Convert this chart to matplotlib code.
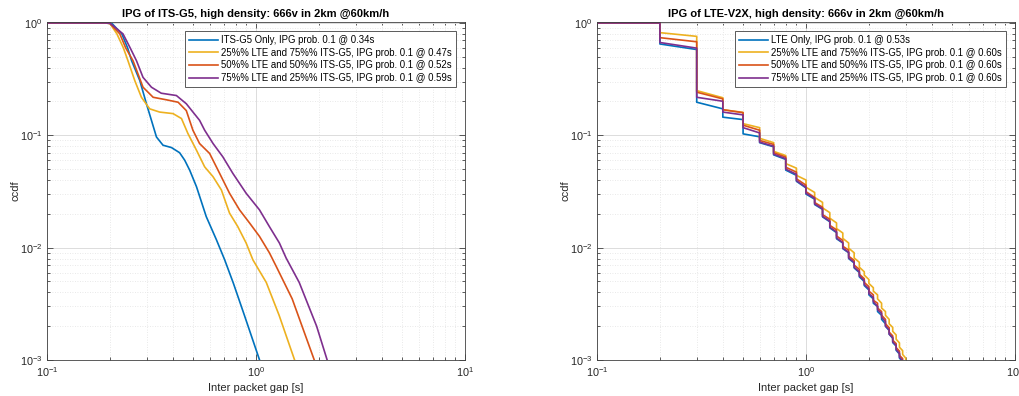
import numpy as np
import matplotlib.pyplot as plt
from matplotlib.ticker import LogLocator, NullFormatter

plt.rcParams['font.family'] = ['Liberation Sans', 'DejaVu Sans']
plt.rcParams['mathtext.default'] = 'regular'

colors = ['#0072BD', '#EDB120', '#D95319', '#7E2F8E']

# ---- left panel: ITS-G5 (smooth ccdf curves) ----
its_title = 'IPG of ITS-G5, high density: 666v in 2km @60km/h'
its_labels = ['ITS-G5 Only, IPG prob. 0.1 @ 0.34s',
              '25%% LTE and 75%% ITS-G5, IPG prob. 0.1 @ 0.47s',
              '50%% LTE and 50%% ITS-G5, IPG prob. 0.1 @ 0.52s',
              '75%% LTE and 25%% ITS-G5, IPG prob. 0.1 @ 0.59s']

its_blue_x = [0.1, 0.19, 0.205, 0.228, 0.243, 0.254, 0.278, 0.299, 0.316, 0.334, 0.359, 0.394,
              0.431, 0.456, 0.482, 0.519, 0.578, 0.646, 0.708, 0.78, 0.88, 1.04, 1.09]
its_blue_y = [1.0, 1.0, 0.985, 0.80, 0.60, 0.461, 0.307, 0.191, 0.136, 0.0966, 0.0816, 0.0778,
              0.070, 0.060, 0.0488, 0.0349, 0.0189, 0.0118, 0.0078, 0.0048, 0.0025, 0.001, 0.0008]

its_yellow_x = [0.1, 0.19, 0.2, 0.216, 0.232, 0.244, 0.263, 0.283, 0.310, 0.346, 0.401, 0.440,
                0.472, 0.519, 0.568, 0.623, 0.683, 0.747, 0.818, 0.897, 0.966, 1.12, 1.29, 1.53, 1.6]
its_yellow_y = [1.0, 1.0, 0.99, 0.80, 0.60, 0.461, 0.307, 0.218, 0.172, 0.161, 0.156, 0.141,
                0.104, 0.0737, 0.0524, 0.0428, 0.0326, 0.0203, 0.0154, 0.011, 0.0078, 0.0049,
                0.0025, 0.001, 0.00085]

its_red_x = [0.1, 0.19, 0.2, 0.223, 0.238, 0.258, 0.288, 0.322, 0.373, 0.424, 0.464, 0.499,
             0.537, 0.600, 0.670, 0.747, 0.834, 0.931, 1.039, 1.159, 1.25, 1.49, 1.90, 1.98]
its_red_y = [1.0, 1.0, 0.99, 0.80, 0.60, 0.461, 0.268, 0.218, 0.207, 0.197, 0.166, 0.111,
             0.0845, 0.0689, 0.0458, 0.0305, 0.0217, 0.0166, 0.0126, 0.009, 0.0068, 0.0035,
             0.001, 0.00085]

its_purple_x = [0.1, 0.19, 0.2, 0.231, 0.25, 0.268, 0.288, 0.316, 0.352, 0.416, 0.464, 0.537,
                0.568, 0.623, 0.694, 0.775, 0.897, 1.039, 1.159, 1.294, 1.393, 1.61, 1.95, 2.19, 2.28]
its_purple_y = [1.0, 1.0, 0.995, 0.80, 0.60, 0.461, 0.328, 0.268, 0.237, 0.226, 0.191, 0.136,
                0.111, 0.0845, 0.0643, 0.0458, 0.0305, 0.0217, 0.0154, 0.011, 0.0081, 0.0049,
                0.002, 0.001, 0.00085]

# ---- right panel: LTE-V2X (steps every 100 ms) ----
lte_title = 'IPG of LTE-V2X, high density: 666v in 2km @60km/h'
lte_labels = ['LTE Only, IPG prob. 0.1 @ 0.53s',
              '25%% LTE and 75%% ITS-G5, IPG prob. 0.1 @ 0.60s',
              '50%% LTE and 50%% ITS-G5, IPG prob. 0.1 @ 0.60s',
              '75%% LTE and 25%% ITS-G5, IPG prob. 0.1 @ 0.60s']

lte_knots = [0.2, 0.3, 0.4, 0.5, 0.6, 0.7, 0.8, 0.9, 1.0, 1.1, 1.2, 1.3, 1.4, 1.5, 1.6,
             1.7, 1.8, 1.9, 2.0, 2.1, 2.2, 2.3, 2.4, 2.5, 2.6, 2.7, 2.8, 2.9, 3.0, 3.1]

# value right after each step, and just before the next one
lte_blue_start = [0.65, 0.197, 0.145, 0.103, 0.086, 0.067, 0.049, 0.039, 0.030, 0.0242, 0.0188,
                  0.0150, 0.0120, 0.0098, 0.0080, 0.0066, 0.0055, 0.0046, 0.0038, 0.0032, 0.0027,
                  0.0023, 0.0020, 0.0017, 0.00143, 0.00122, 0.00104, 0.00089, 0.00076]
lte_blue_end = [0.58, 0.172, 0.138, 0.097, 0.079, 0.061, 0.044, 0.034, 0.027, 0.0219, 0.0170,
                0.0136, 0.0110, 0.0090, 0.0073, 0.0060, 0.0050, 0.0042, 0.0035, 0.0030, 0.0025,
                0.0021, 0.00183, 0.00156, 0.00133, 0.00113, 0.00097, 0.00083, 0.00071]

lte_yellow_start = [0.82, 0.25, 0.169, 0.127, 0.094, 0.072, 0.056, 0.044, 0.0345, 0.028, 0.0226,
                    0.0183, 0.0148, 0.0121, 0.0099, 0.0081, 0.0067, 0.0057, 0.0048, 0.0041, 0.0035,
                    0.0029, 0.0025, 0.0021, 0.0018, 0.00153, 0.0013, 0.00112, 0.00096]
lte_yellow_end = [0.76, 0.216, 0.160, 0.117, 0.086, 0.066, 0.051, 0.040, 0.031, 0.0253, 0.0205,
                  0.0166, 0.0135, 0.0110, 0.0090, 0.0074, 0.0061, 0.0052, 0.0044, 0.0038, 0.0032,
                  0.0027, 0.0023, 0.00195, 0.00167, 0.00142, 0.00121, 0.00104, 0.00089]

lte_red_start = [0.74, 0.242, 0.169, 0.123, 0.090, 0.070, 0.052, 0.041, 0.0315, 0.0252, 0.0197,
                 0.0158, 0.0127, 0.0103, 0.0084, 0.0070, 0.0058, 0.0049, 0.0041, 0.0034, 0.0029,
                 0.0025, 0.0021, 0.00177, 0.0015, 0.00129, 0.0011, 0.00095, 0.00081]
lte_red_end = [0.68, 0.211, 0.159, 0.111, 0.083, 0.064, 0.047, 0.036, 0.028, 0.0229, 0.0179,
               0.0144, 0.0116, 0.0095, 0.0077, 0.0064, 0.0053, 0.0045, 0.0038, 0.0032, 0.0027,
               0.0023, 0.00194, 0.00164, 0.0014, 0.0012, 0.00103, 0.00088, 0.00076]

lte_purple_start = [0.67, 0.218, 0.161, 0.117, 0.087, 0.068, 0.050, 0.0395, 0.0305, 0.0245, 0.0190,
                    0.0152, 0.0122, 0.0099, 0.0081, 0.0067, 0.0056, 0.0047, 0.0039, 0.0033, 0.0028,
                    0.0024, 0.0020, 0.0017, 0.00145, 0.00124, 0.00106, 0.00091, 0.00078]
lte_purple_end = [0.597, 0.201, 0.152, 0.105, 0.080, 0.062, 0.045, 0.0345, 0.0275, 0.0222, 0.0172,
                  0.0138, 0.0111, 0.0091, 0.0074, 0.0061, 0.0051, 0.0043, 0.0036, 0.0030, 0.0026,
                  0.0022, 0.00186, 0.00158, 0.00135, 0.00115, 0.00099, 0.00085, 0.00073]


def step_curve(knots, start, end):
    xs, ys = [0.1, knots[0]], [1.0, 1.0]
    for i in range(len(start)):
        xs += [knots[i], knots[i + 1]]
        ys += [start[i], end[i]]
    return xs, ys


def matlab_style(ax, title):
    ax.set_xscale('log')
    ax.set_yscale('log')
    ax.set_xlim(0.1, 10)
    ax.set_ylim(1e-3, 1.02)
    ax.xaxis.set_minor_locator(LogLocator(base=10, subs=np.arange(2, 10)))
    ax.yaxis.set_minor_locator(LogLocator(base=10, subs=np.arange(2, 10)))
    ax.xaxis.set_minor_formatter(NullFormatter())
    ax.yaxis.set_minor_formatter(NullFormatter())
    ax.grid(True, which='major', color='#DCDCDC', lw=0.7)
    ax.grid(True, which='minor', color='#E2E2E2', lw=0.6, ls=(0, (1, 2)))
    ax.set_axisbelow(True)
    ax.tick_params(which='both', direction='in', top=True, right=True,
                   color='#404040', labelsize=7.8, labelcolor='#262626', width=0.6)
    ax.tick_params(which='major', length=4)
    ax.tick_params(which='minor', length=2)
    for s in ax.spines.values():
        s.set_color('#404040')
        s.set_linewidth(0.6)
    ax.set_title(title, fontsize=8, fontweight='bold', pad=4)
    ax.set_xlabel('Inter packet gap [s]', fontsize=8, color='#262626', labelpad=3)
    ax.set_ylabel('ccdf', fontsize=8, color='#262626', labelpad=-1)
    leg = ax.legend(loc='upper right', fontsize=6.9, fancybox=False, edgecolor='#404040',
                    framealpha=1, handlelength=3.0, labelspacing=0.28, borderaxespad=0.9,
                    borderpad=0.45, handletextpad=0.35)
    leg.get_frame().set_linewidth(0.6)


fig = plt.figure(figsize=(10.19, 3.96), dpi=100)
ax1 = fig.add_axes([47 / 1019, 36 / 396, 418 / 1019, 338 / 396])
ax2 = fig.add_axes([597 / 1019, 36 / 396, 418 / 1019, 338 / 396])

its_x = [its_blue_x, its_yellow_x, its_red_x, its_purple_x]
its_y = [its_blue_y, its_yellow_y, its_red_y, its_purple_y]
for x, y, c, lab in zip(its_x, its_y, colors, its_labels):
    ax1.plot(x, y, color=c, lw=1.2, label=lab)
matlab_style(ax1, its_title)

lte_start = [lte_blue_start, lte_yellow_start, lte_red_start, lte_purple_start]
lte_end = [lte_blue_end, lte_yellow_end, lte_red_end, lte_purple_end]
for s, e, c, lab in zip(lte_start, lte_end, colors, lte_labels):
    x, y = step_curve(lte_knots, s, e)
    ax2.plot(x, y, color=c, lw=1.2, label=lab)
matlab_style(ax2, lte_title)

fig.savefig('out.png', dpi=100)
